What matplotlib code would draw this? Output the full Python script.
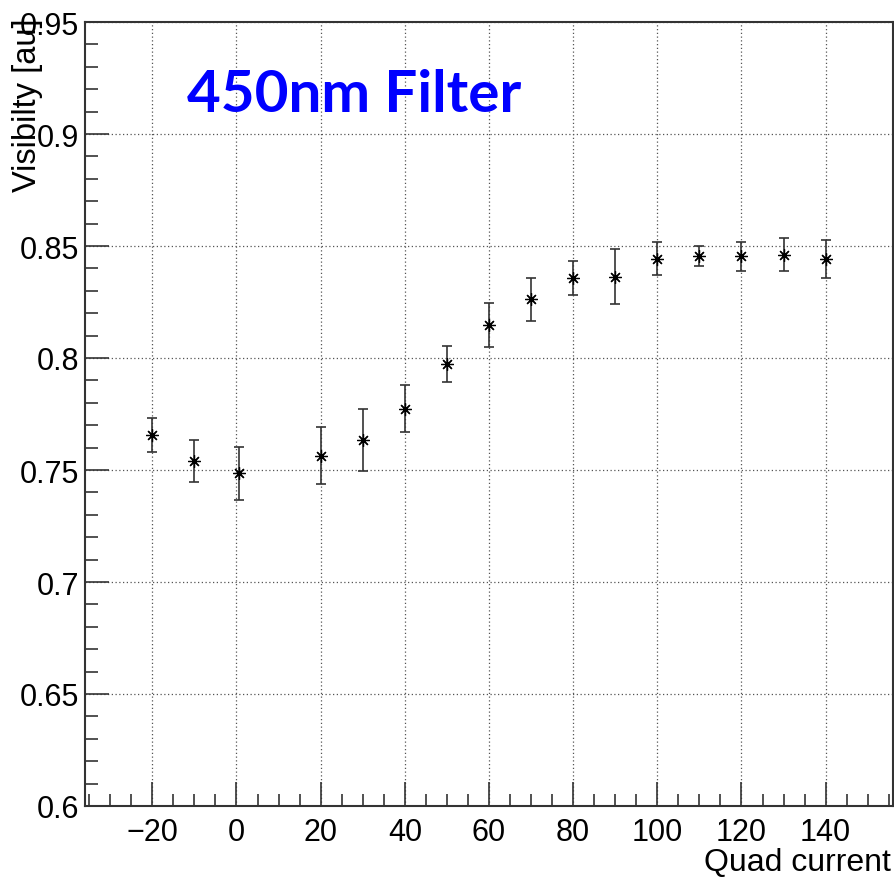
import matplotlib
matplotlib.use("Agg")
import matplotlib.pyplot as plt
from matplotlib.ticker import MultipleLocator, FixedLocator

# Quad current scan, 450nm filter
quad_current = [-20, -10, 0.5, 20, 30, 40, 50, 60, 70, 80, 90, 100, 110, 120, 130, 140]
visibility = [0.7656, 0.7542, 0.7485, 0.7564, 0.7633, 0.7774, 0.7973, 0.8147,
              0.8262, 0.8357, 0.8363, 0.8443, 0.8457, 0.8455, 0.8461, 0.8443]
visibility_err = [0.0074, 0.0094, 0.0119, 0.0126, 0.0139, 0.0106, 0.0080, 0.0097,
                  0.0096, 0.0074, 0.0123, 0.0073, 0.0045, 0.0065, 0.0074, 0.0085]

x_ticks = [-20, 0, 20, 40, 60, 80, 100, 120, 140]
y_ticks = [0.6, 0.65, 0.7, 0.75, 0.8, 0.85, 0.9, 0.95]

plt.rcParams["font.family"] = ["Liberation Sans", "DejaVu Sans"]

W, H = 895, 878
fig = plt.figure(figsize=(W / 100, H / 100), dpi=100)
ax = fig.add_axes([85 / W, 1 - 807 / H, (893 - 85) / W, (807 - 23) / H])

ax.errorbar(quad_current, visibility, yerr=visibility_err, fmt="none",
            ecolor="#333333", elinewidth=1.2, capsize=3.5, capthick=1.2, zorder=3)
ax.plot(quad_current, visibility, linestyle="none", marker=(8, 2, 0),
        markersize=9, markeredgewidth=0.9, color="black", zorder=4)

ax.set_xlim(-36, 156)
ax.set_ylim(0.6, 0.95)

ax.xaxis.set_major_locator(FixedLocator(x_ticks))
ax.xaxis.set_minor_locator(MultipleLocator(5))
ax.yaxis.set_major_locator(FixedLocator(y_ticks))
ax.yaxis.set_minor_locator(MultipleLocator(0.01))
ax.set_xticklabels([f"{v:g}".replace("-", "\u2212") for v in x_ticks])
ax.set_yticklabels([f"{v:g}" for v in y_ticks])

ax.tick_params(axis="both", which="major", direction="in", length=17.5, width=1.2,
               color="#333333", labelsize=22, top=False, right=False)
ax.tick_params(axis="both", which="minor", direction="in", length=9, width=1.2,
               color="#333333", top=False, right=False)
ax.tick_params(axis="x", which="major", pad=8)
ax.tick_params(axis="y", which="major", pad=4)

ax.grid(True, which="major", linestyle=(0, (1, 2)), color="#555555", linewidth=0.9)
ax.set_axisbelow(True)

for side in ["left", "bottom", "top", "right"]:
    ax.spines[side].set_color("#333333")
    ax.spines[side].set_linewidth(1.5)

fig.text(891 / W, 1 - 863 / H, "Quad current", ha="right", va="center", fontsize=23)
fig.text(28 / W, 1 - 18 / H, "Visibilty [au]", ha="center", va="top",
         rotation=90, fontsize=23.5)

ax.text(187 / W, 1 - 112 / H, "450nm Filter", transform=fig.transFigure,
        ha="left", va="baseline", fontsize=42, fontweight="bold",
        color="#0000ff", family=["Lato", "DejaVu Sans"])

fig.savefig("out.png", dpi=100)
